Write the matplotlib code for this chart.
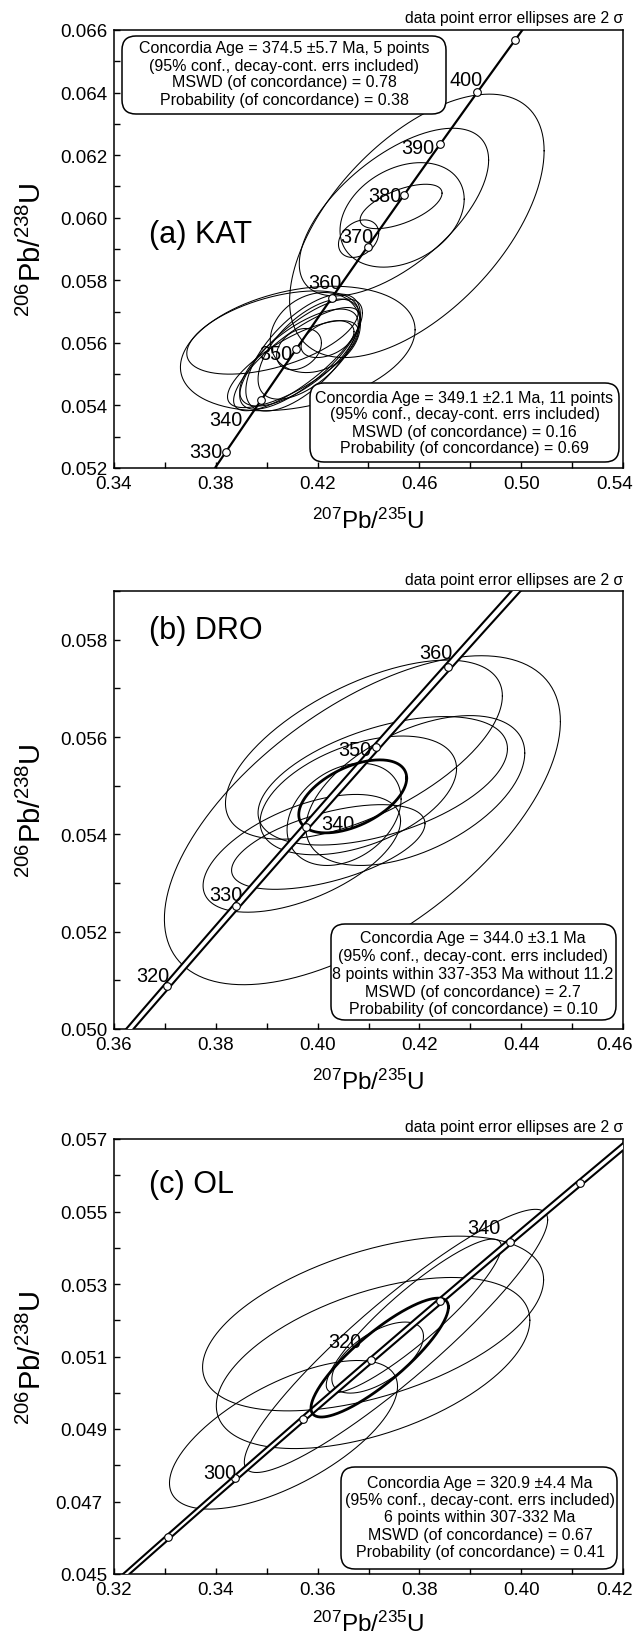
import numpy as np
import matplotlib
matplotlib.use("Agg")
import matplotlib.pyplot as plt
from matplotlib.patches import FancyBboxPatch
from matplotlib.transforms import ScaledTranslation

plt.rcParams['font.family'] = ['Liberation Sans', 'DejaVu Sans']
plt.rcParams['mathtext.fontset'] = 'custom'
plt.rcParams['mathtext.rm'] = 'Liberation Sans'
plt.rcParams['mathtext.it'] = 'Liberation Sans:italic'
plt.rcParams['mathtext.bf'] = 'Liberation Sans:bold'

# ------------------------------------------------------------------ data
LAMBDA_238 = 1.55125e-10
LAMBDA_235 = 9.8485e-10

# (a) KAT : 207Pb/235U, 2s, 206Pb/238U, 2s, rho
KAT_X = [0.4590, 0.4500, 0.4532, 0.4528, 0.4361, 0.4122, 0.4023, 0.4135,
         0.4127, 0.4143, 0.4119, 0.4167, 0.4127, 0.4239, 0.4191, 0.4103]
KAT_X2S = [0.0500, 0.0372, 0.0244, 0.0161, 0.0079, 0.0461, 0.0337, 0.0241,
           0.0233, 0.0225, 0.0249, 0.0201, 0.0088, 0.0104, 0.0177, 0.0257]
KAT_Y = [0.05974, 0.06018, 0.06009, 0.06036, 0.05933, 0.05582, 0.05633, 0.05564,
         0.05553, 0.05569, 0.05548, 0.05580, 0.05580, 0.05612, 0.05633, 0.05532]
KAT_Y2S = [0.00421, 0.00268, 0.00167, 0.00071, 0.00060, 0.00199, 0.00133, 0.00176,
           0.00155, 0.00187, 0.00165, 0.00160, 0.00066, 0.00059, 0.00128, 0.00139]
KAT_RHO = [0.57, 0.62, 0.30, 0.60, 0.30, 0.30, 0.50, 0.75,
           0.70, 0.65, 0.80, 0.60, 0.30, 0.40, 0.20, 0.75]
KAT_AGES = [330, 340, 350, 360, 370, 380, 390, 400, 410]
KAT_LABEL_AGES = [330, 340, 350, 360, 370, 380, 390, 400]
KAT_BOX1 = ["Concordia Age = 374.5 \u00b15.7 Ma, 5 points",
            "(95% conf., decay-cont. errs included)",
            "MSWD (of concordance) = 0.78",
            "Probability (of concordance) = 0.38"]
KAT_BOX2 = ["Concordia Age = 349.1 \u00b12.1 Ma, 11 points",
            "(95% conf., decay-cont. errs included)",
            "MSWD (of concordance) = 0.16",
            "Probability (of concordance) = 0.69"]

# (b) DRO
DRO_X = [0.4088, 0.4091, 0.4192, 0.4128, 0.4080, 0.3969, 0.4021, 0.4052]
DRO_X2S = [0.0389, 0.0272, 0.0215, 0.0245, 0.0193, 0.0194, 0.0190, 0.0112]
DRO_Y = [0.05429, 0.05574, 0.05490, 0.05510, 0.05480, 0.05361, 0.05374, 0.05441]
DRO_Y2S = [0.00338, 0.00184, 0.00154, 0.00132, 0.00122, 0.00121, 0.00087, 0.00105]
DRO_RHO = [0.60, 0.60, 0.50, 0.50, 0.45, 0.55, 0.55, 0.30]
DRO_MEAN = [0.4069, 0.0106, 0.05478, 0.00075, 0.50]
DRO_AGES = [320, 330, 340, 350, 360]
DRO_LABEL_AGES = [320, 330, 340, 350, 360]
DRO_BOX = ["Concordia Age = 344.0 \u00b13.1 Ma",
           "(95% conf., decay-cont. errs included)",
           "8 points within 337-353 Ma without 11.2",
           "MSWD (of concordance) = 2.7",
           "Probability (of concordance) = 0.10"]

# (c) OL
OL_X = [0.3709, 0.3709, 0.3533, 0.3754, 0.3789, 0.3718]
OL_X2S = [0.0335, 0.0308, 0.0224, 0.0298, 0.0172, 0.0090]
OL_Y = [0.05191, 0.05082, 0.04884, 0.05143, 0.05212, 0.05097]
OL_Y2S = [0.00241, 0.00236, 0.00205, 0.00363, 0.00212, 0.00098]
OL_RHO = [0.50, 0.50, 0.65, 0.92, 0.90, 0.60]
OL_MEAN = [0.3722, 0.0135, 0.05097, 0.00164, 0.85]
OL_AGES = [290, 300, 310, 320, 330, 340, 350]
OL_LABEL_AGES = [300, 320, 340]
OL_BOX = ["Concordia Age = 320.9 \u00b14.4 Ma",
          "(95% conf., decay-cont. errs included)",
          "6 points within 307-332 Ma",
          "MSWD (of concordance) = 0.67",
          "Probability (of concordance) = 0.41"]

# ticks
KAT_XTICKS = [0.34, 0.38, 0.42, 0.46, 0.50, 0.54]
KAT_YTICKS = [0.052, 0.054, 0.056, 0.058, 0.060, 0.062, 0.064, 0.066]
DRO_XTICKS = [0.36, 0.38, 0.40, 0.42, 0.44, 0.46]
DRO_YTICKS = [0.050, 0.052, 0.054, 0.056, 0.058]
OL_XTICKS = [0.32, 0.34, 0.36, 0.38, 0.40, 0.42]
OL_YTICKS = [0.045, 0.047, 0.049, 0.051, 0.053, 0.055, 0.057]

# ------------------------------------------------------------------ layout / style
W, H = 637, 1640
fig = plt.figure(figsize=(W / 100, H / 100), dpi=100)


def px_rect(l, t, r, b):
    return [l / W, 1 - b / H, (r - l) / W, (b - t) / H]


LABEL_OFFSETS = {
    'a': {330: (-20, 0), 340: (-35, -19), 350: (-20, -4), 360: (-7, 16),
          370: (-11, 10), 380: (-19, 0), 390: (-23, -4), 400: (-11, 13)},
    'b': {320: (-14, 10), 330: (-10, 12), 340: (32, 3), 350: (-22, -3), 360: (-12, 15)},
    'c': {300: (-15, 6), 320: (-26, 19), 340: (-26, 15)},
}

panels = [
    dict(key='a', rect=px_rect(114, 31, 623, 469), hpx=438,
         xlim=(0.34, 0.54), ylim=(0.052, 0.066),
         xt=KAT_XTICKS, xminor=0.02, yt=KAT_YTICKS, yminor=0.001,
         data=(KAT_X, KAT_X2S, KAT_Y, KAT_Y2S, KAT_RHO), mean=None,
         ages=KAT_AGES, lab=KAT_LABEL_AGES, band=False,
         title='(a) KAT', title_pos=(0.069, 0.534), xlab_y=-0.119),
    dict(key='b', rect=px_rect(114, 592, 623, 1030), hpx=438,
         xlim=(0.36, 0.46), ylim=(0.050, 0.059),
         xt=DRO_XTICKS, xminor=0.01, yt=DRO_YTICKS, yminor=0.001,
         data=(DRO_X, DRO_X2S, DRO_Y, DRO_Y2S, DRO_RHO), mean=DRO_MEAN,
         ages=DRO_AGES, lab=DRO_LABEL_AGES, band=True,
         title='(b) DRO', title_pos=(0.069, 0.911), xlab_y=-0.119),
    dict(key='c', rect=px_rect(114, 1140, 623, 1575), hpx=435,
         xlim=(0.32, 0.42), ylim=(0.045, 0.057),
         xt=OL_XTICKS, xminor=0.01, yt=OL_YTICKS, yminor=0.001,
         data=(OL_X, OL_X2S, OL_Y, OL_Y2S, OL_RHO), mean=OL_MEAN,
         ages=OL_AGES, lab=OL_LABEL_AGES, band=True,
         title='(c) OL', title_pos=(0.069, 0.897), xlab_y=-0.113),
]


def ellipse_xy(cx, ex, cy, ey, rho, n=300):
    t = np.linspace(0, 2 * np.pi, n)
    return cx + ex * np.cos(t), cy + ey * (rho * np.cos(t) + np.sqrt(1 - rho ** 2) * np.sin(t))


def concordia(t_ma):
    t = np.asarray(t_ma, float) * 1e6
    return np.exp(LAMBDA_235 * t) - 1, np.exp(LAMBDA_238 * t) - 1


for p in panels:
    ax = fig.add_axes(p['rect'])
    ax.set_xlim(*p['xlim'])
    ax.set_ylim(*p['ylim'])

    # data-point ellipses
    for cx, ex, cy, ey, r in zip(*p['data']):
        ex_, ey_ = ellipse_xy(cx, ex, cy, ey, r)
        ax.plot(ex_, ey_, color='black', lw=0.75, zorder=2)

    # concordia curve
    tt = np.linspace(200, 500, 600)
    cxv, cyv = concordia(tt)
    if p['band']:
        d = (1 + cxv) * np.log(1 + cxv) * 0.0017
        ax.fill_betweenx(cyv, cxv - d, cxv + d, color='white', zorder=3, lw=0)
        if p['mean'] is not None:
            mx, mex, my, mey, mr = p['mean']
            bx, by = ellipse_xy(mx, mex, my, mey, mr)
            ax.plot(bx, by, color='black', lw=2.0, zorder=3.5)
        ax.plot(cxv - d, cyv, color='black', lw=1.5, zorder=4)
        ax.plot(cxv + d, cyv, color='black', lw=1.5, zorder=4)
    else:
        ax.plot(cxv, cyv, color='black', lw=1.6, zorder=4)

    # age markers
    mx_, my_ = concordia(p['ages'])
    ax.plot(mx_, my_, 'o', ms=5.5, mfc='white', mec='black', mew=0.8, zorder=5)
    lx, ly = concordia(p['lab'])
    for age, x, y in zip(p['lab'], lx, ly):
        ax.annotate(str(age), xy=(x, y), xytext=LABEL_OFFSETS[p['key']][age],
                    textcoords='offset pixels', ha='center', va='center',
                    fontsize=14.3, zorder=6)

    # ticks
    ax.set_xticks(p['xt'])
    ax.set_xticklabels(['%.2f' % v for v in p['xt']])
    ax.set_xticks(np.arange(p['xlim'][0], p['xlim'][1] + 1e-9, p['xminor']), minor=True)
    ax.set_yticks(p['yt'])
    ax.set_yticklabels(['%.3f' % v for v in p['yt']])
    ax.set_yticks(np.arange(p['ylim'][0], p['ylim'][1] + 1e-9, p['yminor']), minor=True)
    ax.tick_params(which='both', direction='in', length=4, width=1.0,
                   top=False, right=False, labelsize=13.5, pad=5)
    for s in ax.spines.values():
        s.set_linewidth(1.1)

    # keep the last x label inside the figure, as in the reference
    last = ax.get_xticklabels()[-1]
    last.set_transform(last.get_transform() + ScaledTranslation(-0.08, 0, fig.dpi_scale_trans))
    if p['key'] == 'c':
        lab047 = ax.get_yticklabels()[1]
        lab047.set_transform(lab047.get_transform() + ScaledTranslation(-0.05, 0, fig.dpi_scale_trans))

    ax.set_xlabel(r'$^{207}$Pb/$^{235}$U', fontsize=17.5)
    ax.xaxis.label.set_verticalalignment('center')
    ax.xaxis.set_label_coords(0.5, p['xlab_y'])
    ax.set_ylabel(r'$^{206}$Pb/$^{238}$U', fontsize=21)
    ax.yaxis.label.set_verticalalignment('center')
    ax.yaxis.set_label_coords(-0.161, 0.5)

    ax.text(1.0, 1.0 + 12 / p['hpx'], 'data point error ellipses are 2 \u03c3',
            transform=ax.transAxes, ha='right', va='center', fontsize=11.3)
    ax.text(p['title_pos'][0], p['title_pos'][1], p['title'], transform=ax.transAxes,
            ha='left', va='center', fontsize=22)

# ------------------------------------------------------------------ result boxes (pixel overlay)
ov = fig.add_axes([0, 0, 1, 1])
ov.set_xlim(0, W)
ov.set_ylim(H, 0)
ov.axis('off')
ov.patch.set_visible(False)

BOXES = [
    (KAT_BOX1, (122, 37, 446, 115), 284, [49, 66, 83, 101]),
    (KAT_BOX2, (310, 384, 619, 463), 464.5, [398, 415, 432, 448]),
    (DRO_BOX, (331, 925, 616, 1021), 473, [939, 957, 975, 993, 1010]),
    (OL_BOX, (341, 1468, 617, 1570), 480, [1484, 1501, 1518, 1536, 1553]),
]
for lines, (l, t, r, b), cx, ys in BOXES:
    ov.add_patch(FancyBboxPatch((l, t), r - l, b - t,
                                boxstyle='round,pad=0,rounding_size=14',
                                fc='white', ec='black', lw=1.1))
    for line, y in zip(lines, ys):
        ov.text(cx, y, line, ha='center', va='center', fontsize=11.5)

fig.savefig('out.png', dpi=100)
